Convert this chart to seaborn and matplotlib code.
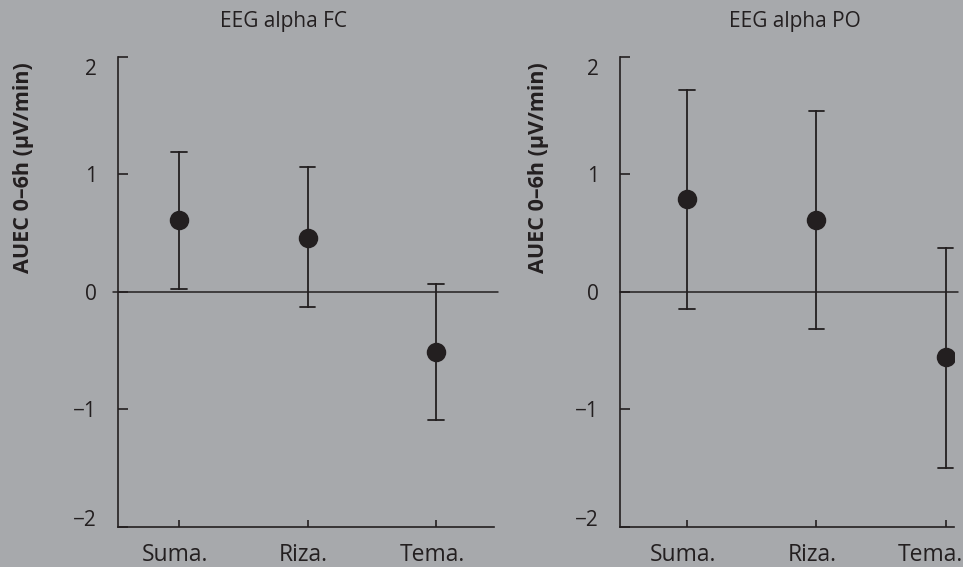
import pandas as pd
import numpy as np
import matplotlib
matplotlib.use('Agg')
import matplotlib.pyplot as plt
import matplotlib.transforms as mtransforms
import seaborn as sns

# Werte
categories = ['Suma.', 'Riza.', 'Tema.']

fc_mean = [0.61, 0.46, -0.51]
fc_lower = [0.02, -0.13, -1.09]
fc_upper = [1.19, 1.06, 0.07]

po_mean = [0.79, 0.61, -0.56]
po_lower = [-0.15, -0.32, -1.50]
po_upper = [1.72, 1.54, 0.37]

titles = ['EEG alpha FC', 'EEG alpha PO']
ylabel = 'AUEC 0–6h (µV/min)'
yticks = [-2, -1, 0, 1, 2]

bg = '#a7a9ac'
ink = '#231f20'

sns.set_style('ticks')
plt.rcParams['font.family'] = ['Open Sans', 'DejaVu Sans']
plt.rcParams['axes.unicode_minus'] = True


def long_df(mean, lower, upper):
    rows = []
    for c, m, lo, hi in zip(categories, mean, lower, upper):
        rows.append({'cat': c, 'val': lo})
        rows.append({'cat': c, 'val': m})
        rows.append({'cat': c, 'val': hi})
    return pd.DataFrame(rows)


def shift(artist, dx, dy):
    artist.set_transform(artist.get_transform()
                         + mtransforms.ScaledTranslation(dx / 72, dy / 72, fig.dpi_scale_trans))


fig = plt.figure(figsize=(9.63, 5.67), dpi=100)
fig.patch.set_facecolor(bg)

ax1 = fig.add_axes([118 / 963, 1 - 526.5 / 567, 376 / 963, 469.5 / 567])
ax2 = fig.add_axes([620 / 963, 1 - 526.5 / 567, 334 / 963, 469.5 / 567])

panels = [
    (ax1, long_df(fc_mean, fc_lower, fc_upper), (-0.475, 2.45), titles[0], 283, 23, -5 / 376),
    (ax2, long_df(po_mean, po_lower, po_upper), (-0.52, 2.065), titles[1], 795, 538, 0.0),
]

for ax, d, xl, title, tx, lx, zx in panels:
    ax.set_facecolor(bg)
    sns.pointplot(data=d, x='cat', y='val', estimator='median',
                  errorbar=lambda v: (v.min(), v.max()),
                  linestyle='none', color=ink, markersize=12,
                  capsize=0.12, err_kws={'linewidth': 1.3}, ax=ax)
    ax.axhline(0, xmin=zx, xmax=1 + 4 / 376, color=ink, lw=1.1, clip_on=False, zorder=1)
    ax.set_xlim(*xl)
    ax.set_ylim(-2, 2)
    ax.set_yticks(yticks)
    ax.set_yticklabels(['−2', '−1', '0', '1', '2'])
    ax.set_xlabel('')
    ax.set_ylabel('')
    for s in ['top', 'right']:
        ax.spines[s].set_visible(False)
    for s in ['left', 'bottom']:
        ax.spines[s].set_color(ink)
        ax.spines[s].set_linewidth(1.2)
    ax.tick_params(axis='y', direction='in', length=7, width=1.2, color=ink,
                   pad=15, labelsize=15, labelcolor=ink)
    ax.tick_params(axis='x', direction='in', length=5, width=1.2, color=ink,
                   pad=12, labelsize=16.5, labelcolor=ink)
    # die aeusseren Zahlen etwas nach innen schieben
    labs = ax.get_yticklabels()
    shift(labs[0], 0, 6)
    shift(labs[-1], 0, -7)
    for t in ax.get_xticklabels():
        shift(t, -3, 0)

    fig.text(tx / 963, 1 - 22 / 567, title, ha='center', va='center', fontsize=15, color=ink)
    fig.text(lx / 963, 1 - 168 / 567, ylabel, ha='center', va='center', rotation=90,
             fontsize=15.5, fontweight='bold', color=ink)

# rechtes "Tema." passt sonst nicht ins Bild
shift(ax2.get_xticklabels()[-1], -8, 0)

fig.savefig('out.png', dpi=100, facecolor=bg)
